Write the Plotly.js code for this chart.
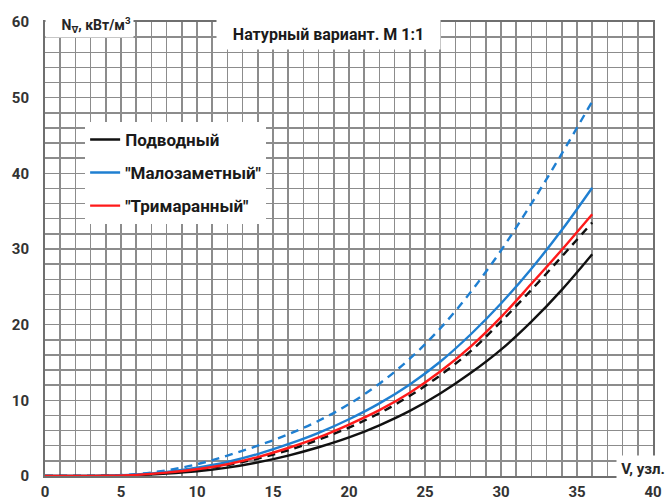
<!DOCTYPE html>
<html>
<head>
<meta charset="utf-8">
<script src="https://cdn.plot.ly/plotly-3.0.1.min.js"></script>
<style>html,body{margin:0;padding:0;background:#fff;}#chart{width:668px;height:504px;}</style>
</head>
<body>
<div id="chart"></div>
<script>
const speed = [0, 2, 4, 6, 8, 10, 12, 14, 16, 18, 20, 22, 24, 26, 28, 30, 32, 34, 36];
const podvodnySolid = [0, 0, 0.03, 0.12, 0.32, 0.62, 1.1, 1.8, 2.7, 3.8, 5.1, 6.7, 8.6, 10.9, 13.6, 16.7, 20.4, 24.6, 29.3];
const podvodnyDash  = [0, 0, 0.03, 0.15, 0.42, 0.85, 1.45, 2.3, 3.4, 4.8, 6.4, 8.3, 10.6, 13.3, 16.5, 20.4, 24.6, 29.0, 33.5];
const trimaranSolid = [0, 0, 0.03, 0.15, 0.45, 0.9, 1.55, 2.5, 3.7, 5.1, 6.8, 8.7, 11.0, 13.8, 17.1, 21.0, 25.4, 29.9, 34.6];
const malozamSolid  = [0, 0, 0.03, 0.2, 0.55, 1.1, 1.85, 2.9, 4.2, 5.7, 7.5, 9.6, 12.1, 15.1, 18.7, 22.8, 27.4, 32.5, 38.1];
const malozamDash   = [0, 0.01, 0.05, 0.25, 0.75, 1.55, 2.7, 4.0, 5.5, 7.3, 9.5, 12.2, 15.5, 19.5, 24.3, 29.8, 36.0, 42.6, 49.5];
const seriesNames = ['Подводный', '"Малозаметный"', '"Тримаранный"'];
const xTickVals = [0, 5, 10, 15, 20, 25, 30, 35, 40];
const yTickVals = [0, 10, 20, 30, 40, 50, 60];

const BLACK = '#111111', BLUE = '#1f7fd1', RED = '#ff1a1a';
const FONT = 'Roboto, "Open Sans", "DejaVu Sans", sans-serif';
const LW = 2.4;
const DASH = '8px,6px';

const traces = [
  {x: speed, y: podvodnyDash, mode: 'lines', line: {color: BLACK, width: LW, dash: DASH, shape: 'spline'}, showlegend: false},
  {x: speed, y: malozamDash, mode: 'lines', line: {color: BLUE, width: LW, dash: DASH, shape: 'spline'}, showlegend: false},
  {x: speed, y: podvodnySolid, name: seriesNames[0], legendgroup: 'a', mode: 'lines', line: {color: BLACK, width: LW, shape: 'spline'}},
  {x: speed, y: malozamSolid, name: seriesNames[1], legendgroup: 'b', mode: 'lines', line: {color: BLUE, width: LW, shape: 'spline'}},
  {x: speed, y: trimaranSolid, name: seriesNames[2], legendgroup: 'c', mode: 'lines', line: {color: RED, width: LW, shape: 'spline'}}
];

const gridColor = '#8c8c8c';
const layout = {
  width: 668, height: 504,
  margin: {l: 45, r: 15, t: 22, b: 28, pad: 0},
  paper_bgcolor: '#ffffff', plot_bgcolor: '#ffffff',
  font: {family: FONT, color: '#262626'},
  showlegend: true,
  legend: {
    x: 0.066, y: 0.78, xanchor: 'left', yanchor: 'top',
    bgcolor: '#ffffff', borderwidth: 0,
    font: {family: FONT, size: 17, color: '#1a1a1a', weight: 'bold'},
    traceorder: 'grouped', tracegroupgap: 8, itemwidth: 30
  },
  xaxis: {
    range: [0, 40], tickvals: xTickVals, ticktext: xTickVals.map(String),
    showgrid: true, gridcolor: gridColor, gridwidth: 1.5,
    minor: {dtick: 1, showgrid: true, gridcolor: gridColor, gridwidth: 1.5},
    zeroline: false, showline: true, linecolor: '#6f6f6f', linewidth: 2, mirror: true,
    ticks: '', ticklabelstandoff: 1,
    tickfont: {family: FONT, size: 15, color: '#333333', weight: 'bold'},
    fixedrange: true
  },
  yaxis: {
    range: [0, 60], tickvals: yTickVals, ticktext: yTickVals.map(String),
    showgrid: true, gridcolor: gridColor, gridwidth: 1.5,
    minor: {dtick: 2, showgrid: true, gridcolor: gridColor, gridwidth: 1.5},
    zeroline: false, showline: true, linecolor: '#6f6f6f', linewidth: 2, mirror: true,
    ticks: '', ticklabelstandoff: 11,
    tickfont: {family: FONT, size: 15, color: '#333333', weight: 'bold'},
    fixedrange: true
  },
  annotations: [
    {text: '<b>Натурный вариант. М 1:1</b>', xref: 'paper', yref: 'paper',
     x: 0.4655, y: 1.0088, xanchor: 'center', yanchor: 'top',
     width: 219, height: 26, borderpad: 2, valign: 'middle', align: 'center',
     bgcolor: '#ffffff', showarrow: false,
     font: {family: FONT, size: 16, color: '#1a1a1a'}},
    {text: '<b>N<sub>∇</sub>, кВт/м<sup>3</sup></b>', xref: 'paper', yref: 'paper',
     x: 0.0, y: 1.0485, xanchor: 'left', yanchor: 'top',
     width: 83, height: 32, borderpad: 2, valign: 'bottom', align: 'right',
     bgcolor: '#ffffff', showarrow: false,
     font: {family: FONT, size: 14, color: '#262626'}},
    {text: '<b>V, узл.</b>', xref: 'paper', yref: 'paper',
     x: 0.939, y: 0.0154, xanchor: 'left', yanchor: 'middle',
     width: 50, height: 24, borderpad: 1, valign: 'middle', align: 'center',
     bgcolor: '#ffffff', showarrow: false,
     font: {family: FONT, size: 15, color: '#262626'}}
  ]
};

Plotly.newPlot('chart', traces, layout, {displayModeBar: false, staticPlot: true});
</script>
</body>
</html>
